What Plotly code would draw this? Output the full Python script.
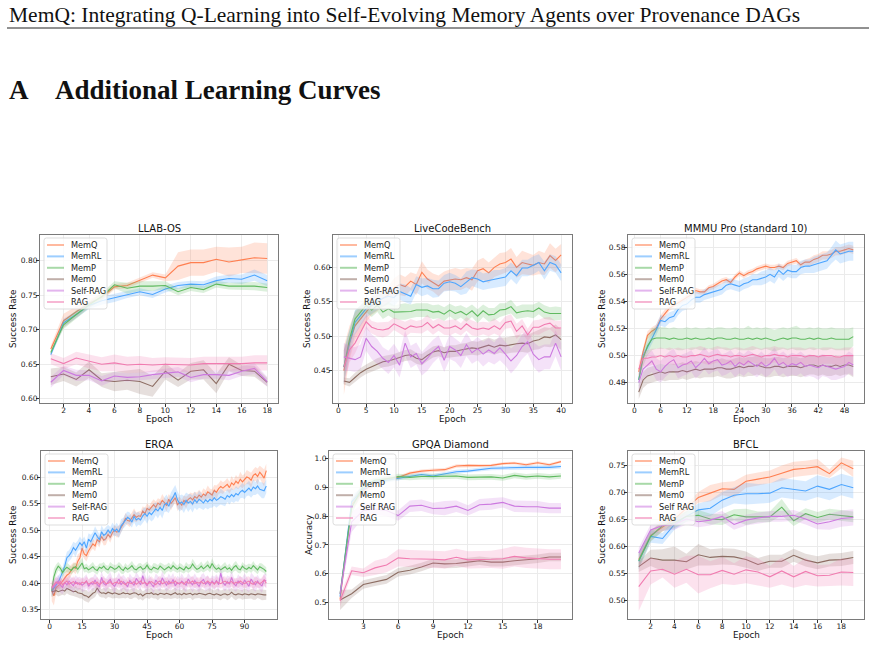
import plotly.graph_objects as go

W, H = 876, 646

SERIES = ["MemQ", "MemRL", "MemP", "Mem0", "Self-RAG", "RAG"]
LABELS_HYPHEN = ["MemQ", "MemRL", "MemP", "Mem0", "Self-RAG", "RAG"]
LABELS_SPACE = ["MemQ", "MemRL", "MemP", "Mem0", "Self RAG", "RAG"]
COLORS = [(255, 127, 80), (77, 166, 255), (96, 186, 96), (141, 110, 99), (204, 121, 224), (241, 124, 176)]

# ---------------- LLAB-OS ----------------
LLAB_EPOCHS = list(range(1, 19))
LLAB_MEMQ = [0.672, 0.713, 0.726, 0.738, 0.747, 0.762, 0.764, 0.771, 0.779, 0.775, 0.792, 0.797, 0.797, 0.802, 0.798, 0.801, 0.804, 0.803]
LLAB_MEMRL = [0.664, 0.710, 0.722, 0.735, 0.742, 0.746, 0.751, 0.755, 0.751, 0.759, 0.764, 0.766, 0.765, 0.771, 0.774, 0.773, 0.779, 0.771]
LLAB_MEMP = [0.667, 0.707, 0.722, 0.736, 0.748, 0.765, 0.760, 0.763, 0.763, 0.764, 0.755, 0.761, 0.758, 0.766, 0.763, 0.763, 0.763, 0.761]
LLAB_MEM0 = [0.632, 0.636, 0.628, 0.642, 0.627, 0.625, 0.627, 0.625, 0.618, 0.640, 0.627, 0.640, 0.642, 0.622, 0.650, 0.641, 0.640, 0.624]
LLAB_SELFRAG = [0.624, 0.641, 0.634, 0.634, 0.626, 0.633, 0.631, 0.632, 0.635, 0.637, 0.639, 0.631, 0.635, 0.635, 0.634, 0.640, 0.644, 0.625]
LLAB_RAG = [0.658, 0.651, 0.659, 0.654, 0.650, 0.652, 0.649, 0.650, 0.649, 0.650, 0.650, 0.649, 0.651, 0.651, 0.650, 0.651, 0.652, 0.652]
# band half-widths, in thousandths
LLAB_MEMQ_SD = [5, 10, 8, 6, 5, 4, 4, 4, 4, 5, 20, 19, 19, 18, 21, 19, 22, 22]
LLAB_MEMRL_SD = [3, 6, 5, 5, 6, 6, 5, 5, 5, 5, 5, 5, 5, 6, 6, 7, 8, 8]
LLAB_MEMP_SD = [3, 6, 6, 5, 5, 5, 8, 7, 7, 6, 5, 5, 5, 5, 5, 6, 6, 6]
LLAB_MEM0_SD = [12, 10, 10, 12, 10, 14, 14, 18, 15, 12, 10, 12, 14, 14, 10, 8, 8, 6]
LLAB_SELFRAG_SD = [8, 7, 8, 7, 7, 6, 6, 6, 6, 7, 7, 7, 6, 6, 7, 7, 8, 7]
LLAB_RAG_SD = [8, 8, 9, 10, 10, 12, 12, 12, 10, 10, 10, 10, 10, 10, 10, 10, 11, 11]
LLAB_XTICKS = [2, 4, 6, 8, 10, 12, 14, 16, 18]
LLAB_YTICKS = [0.60, 0.65, 0.70, 0.75, 0.80]

# ---------------- LiveCodeBench ----------------
LCB_EPOCHS = list(range(1, 41))
LCB_MEMQ = [0.450, 0.490, 0.515, 0.525, 0.535, 0.545, 0.550, 0.555, 0.560, 0.570,
            0.575, 0.572, 0.580, 0.575, 0.593, 0.583, 0.578, 0.573, 0.580, 0.582,
            0.583, 0.582, 0.585, 0.582, 0.595, 0.598, 0.592, 0.600, 0.605, 0.607,
            0.612, 0.600, 0.607, 0.605, 0.603, 0.607, 0.605, 0.617, 0.610, 0.618]
LCB_MEMRL = [0.455, 0.490, 0.520, 0.530, 0.540, 0.545, 0.550, 0.555, 0.558, 0.556,
             0.565, 0.562, 0.558, 0.575, 0.571, 0.573, 0.569, 0.569, 0.577, 0.579,
             0.577, 0.572, 0.578, 0.585, 0.583, 0.579, 0.581, 0.583, 0.584, 0.586,
             0.595, 0.588, 0.599, 0.599, 0.603, 0.607, 0.595, 0.607, 0.604, 0.592]
LCB_MEMP = [0.455, 0.495, 0.525, 0.535, 0.545, 0.538, 0.545, 0.535, 0.540, 0.535,
            0.535, 0.536, 0.536, 0.538, 0.538, 0.538, 0.535, 0.536, 0.532, 0.538,
            0.533, 0.536, 0.531, 0.537, 0.529, 0.537, 0.531, 0.532, 0.538, 0.539,
            0.543, 0.534, 0.536, 0.537, 0.536, 0.541, 0.535, 0.533, 0.533, 0.533]
LCB_MEM0 = [0.435, 0.433, 0.440, 0.447, 0.452, 0.456, 0.460, 0.463, 0.464, 0.466,
            0.469, 0.472, 0.473, 0.468, 0.466, 0.472, 0.477, 0.479, 0.476, 0.478,
            0.478, 0.480, 0.481, 0.483, 0.482, 0.485, 0.487, 0.484, 0.487, 0.486,
            0.488, 0.489, 0.490, 0.489, 0.493, 0.495, 0.499, 0.498, 0.502, 0.495]
LCB_SELFRAG = [0.470, 0.468, 0.466, 0.470, 0.497, 0.485, 0.478, 0.468, 0.462, 0.472,
               0.458, 0.490, 0.470, 0.475, 0.460, 0.468, 0.478, 0.485, 0.465, 0.485,
               0.480, 0.472, 0.488, 0.476, 0.482, 0.474, 0.480, 0.475, 0.483, 0.474,
               0.464, 0.472, 0.485, 0.492, 0.474, 0.466, 0.470, 0.470, 0.490, 0.470]
LCB_RAG = [0.455, 0.480, 0.490, 0.505, 0.521, 0.513, 0.510, 0.509, 0.511, 0.518,
           0.514, 0.510, 0.515, 0.513, 0.514, 0.520, 0.512, 0.517, 0.512, 0.512,
           0.515, 0.510, 0.518, 0.512, 0.510, 0.512, 0.510, 0.515, 0.510, 0.520,
           0.522, 0.507, 0.515, 0.502, 0.513, 0.513, 0.517, 0.519, 0.512, 0.512]
LCB_MEMQ_SD = [35, 25, 20, 18, 15, 14, 14, 13, 13, 14, 15, 14, 13, 15, 16, 14, 13, 15, 14, 15,
               16, 15, 14, 16, 15, 16, 15, 14, 16, 15, 16, 15, 17, 16, 15, 17, 16, 18, 17, 16]
LCB_MEMRL_SD = [25, 20, 18, 15, 13, 12, 12, 12, 12, 13, 12, 13, 12, 12, 13, 12, 13, 12, 12, 13,
                12, 12, 16, 12, 13, 12, 12, 13, 12, 13, 12, 13, 12, 12, 13, 12, 13, 12, 12, 12]
LCB_MEMP_SD = [25, 15, 12, 10, 10, 10, 10, 10, 10, 10, 11, 12, 10, 10, 10, 10, 10, 10, 10, 9,
               10, 9, 10, 9, 10, 9, 10, 9, 10, 9, 10, 9, 10, 9, 10, 9, 10, 9, 10, 9]
LCB_MEM0_SD = [5, 6, 7, 7, 7, 8, 8, 8, 8, 8, 8, 8, 8, 8, 8, 8, 8, 8, 8, 9,
               9, 9, 9, 10, 10, 10, 11, 11, 11, 12, 12, 12, 13, 13, 13, 14, 14, 14, 15, 15]
LCB_SELFRAG_SD = [20, 18, 18, 18, 18, 18, 18, 16, 17, 17, 18, 18, 16, 16, 17, 18, 17, 16, 17, 18,
                  17, 18, 17, 16, 17, 18, 17, 16, 18, 17, 18, 17, 18, 17, 18, 19, 18, 18, 19, 20]
LCB_RAG_SD = [25, 18, 15, 12, 10, 9, 10, 11, 10, 9, 10, 11, 10, 9, 10, 11, 10, 9, 10, 11,
              10, 9, 10, 11, 10, 9, 10, 11, 10, 9, 10, 11, 10, 9, 10, 11, 10, 9, 10, 11]
LCB_XTICKS = [0, 5, 10, 15, 20, 25, 30, 35, 40]
LCB_YTICKS = [0.45, 0.50, 0.55, 0.60]

# ---------------- MMMU Pro (standard 10) ----------------
MMMU_EPOCHS = list(range(1, 51))
MMMU_MEMQ = [0.488, 0.503, 0.515, 0.518, 0.520, 0.527, 0.531, 0.535, 0.537, 0.539,
             0.541, 0.543, 0.545, 0.548, 0.547, 0.547, 0.550, 0.551, 0.553, 0.555,
             0.556, 0.554, 0.558, 0.561, 0.559, 0.561, 0.562, 0.564, 0.565, 0.566,
             0.565, 0.565, 0.566, 0.565, 0.568, 0.569, 0.570, 0.567, 0.569, 0.569,
             0.571, 0.572, 0.574, 0.574, 0.575, 0.577, 0.577, 0.578, 0.579, 0.578]
MMMU_MEMRL = [0.482, 0.500, 0.506, 0.512, 0.519, 0.526, 0.525, 0.528, 0.529, 0.534,
              0.537, 0.538, 0.541, 0.543, 0.543, 0.545, 0.546, 0.547, 0.548, 0.549,
              0.552, 0.553, 0.552, 0.551, 0.553, 0.554, 0.556, 0.556, 0.557, 0.558,
              0.560, 0.558, 0.563, 0.560, 0.563, 0.562, 0.562, 0.565, 0.566, 0.566,
              0.567, 0.568, 0.569, 0.570, 0.574, 0.578, 0.575, 0.576, 0.577, 0.577]
MMMU_MEMP = [0.482, 0.498, 0.507, 0.512, 0.513, 0.513, 0.513, 0.512, 0.513, 0.512,
             0.512, 0.513, 0.512, 0.513, 0.512, 0.512, 0.513, 0.512, 0.513, 0.513,
             0.512, 0.512, 0.513, 0.512, 0.512, 0.513, 0.512, 0.513, 0.512, 0.513,
             0.512, 0.511, 0.512, 0.513, 0.512, 0.513, 0.513, 0.512, 0.512, 0.513,
             0.512, 0.513, 0.512, 0.512, 0.513, 0.512, 0.512, 0.512, 0.512, 0.514]
MMMU_MEM0 = [0.473, 0.482, 0.485, 0.486, 0.487, 0.488, 0.487, 0.488, 0.488, 0.488,
             0.489, 0.488, 0.489, 0.490, 0.489, 0.490, 0.490, 0.490, 0.491, 0.491,
             0.490, 0.490, 0.491, 0.492, 0.491, 0.492, 0.492, 0.493, 0.492, 0.491,
             0.491, 0.492, 0.492, 0.491, 0.492, 0.492, 0.492, 0.491, 0.492, 0.493,
             0.493, 0.492, 0.493, 0.492, 0.492, 0.493, 0.492, 0.493, 0.493, 0.492]
MMMU_SELFRAG = [0.480, 0.490, 0.493, 0.496, 0.490, 0.488, 0.492, 0.495, 0.497, 0.491,
                0.493, 0.494, 0.496, 0.491, 0.494, 0.498, 0.494, 0.496, 0.497, 0.493,
                0.494, 0.496, 0.492, 0.495, 0.493, 0.496, 0.494, 0.492, 0.495, 0.492,
                0.494, 0.498, 0.493, 0.495, 0.492, 0.494, 0.493, 0.495, 0.492, 0.493,
                0.492, 0.491, 0.493, 0.492, 0.491, 0.490, 0.491, 0.492, 0.495, 0.493]
MMMU_RAG = [0.490, 0.498, 0.498, 0.499, 0.499, 0.500, 0.499, 0.500, 0.499, 0.500,
            0.499, 0.499, 0.500, 0.500, 0.501, 0.500, 0.499, 0.500, 0.501, 0.500,
            0.500, 0.499, 0.500, 0.500, 0.499, 0.500, 0.501, 0.500, 0.499, 0.500,
            0.500, 0.501, 0.500, 0.500, 0.499, 0.500, 0.500, 0.500, 0.499, 0.500,
            0.500, 0.499, 0.500, 0.500, 0.500, 0.499, 0.499, 0.500, 0.500, 0.500]
MMMU_MEMQ_SD = [3, 3, 3, 3, 3, 3, 3, 2, 2, 2, 2, 2, 2, 2, 2, 2, 2, 2, 2, 2, 2, 2, 2, 2, 2,
                2, 2, 2, 2, 2, 2, 2, 2, 2, 2, 2, 2, 2, 2, 3, 3, 3, 3, 3, 3, 3, 3, 3, 3, 3]
MMMU_MEMRL_SD = [3, 3, 4, 4, 4, 4, 4, 4, 4, 4, 4, 4, 4, 4, 4, 4, 4, 4, 4, 4, 4, 4, 4, 4, 4,
                 4, 4, 4, 5, 5, 5, 5, 5, 5, 5, 5, 5, 5, 5, 5, 6, 6, 6, 6, 6, 7, 7, 7, 7, 7]
MMMU_MEMP_SD = [5, 6, 7, 8, 8, 8, 8, 8, 8, 8, 8, 8, 8, 8, 8, 8, 8, 8, 8, 8, 8, 8, 8, 8, 8,
                9, 8, 8, 8, 8, 8, 8, 8, 8, 8, 8, 9, 8, 8, 8, 8, 8, 8, 8, 8, 8, 8, 8, 8, 7]
MMMU_MEM0_SD = [5, 6, 6, 6, 6, 6, 6, 6, 6, 6, 6, 6, 6, 6, 6, 6, 6, 6, 6, 7, 7, 7, 7, 7, 7,
                7, 7, 7, 7, 7, 7, 7, 7, 7, 7, 7, 7, 7, 7, 7, 7, 7, 7, 7, 7, 7, 7, 7, 7, 8]
MMMU_SELFRAG_SD = [6, 7, 8, 8, 8, 8, 8, 8, 8, 8, 8, 8, 8, 8, 8, 8, 8, 8, 8, 8, 8, 8, 8, 8, 8,
                   8, 8, 8, 8, 8, 8, 8, 8, 8, 8, 8, 8, 8, 8, 8, 8, 9, 8, 8, 9, 8, 8, 8, 8, 8]
MMMU_RAG_SD = [5, 6, 6, 6, 6, 6, 6, 6, 6, 6, 6, 6, 6, 6, 6, 6, 6, 6, 6, 6, 6, 6, 6, 6, 6,
               6, 6, 6, 6, 6, 6, 6, 6, 6, 6, 6, 6, 6, 6, 6, 6, 6, 6, 6, 6, 6, 6, 6, 6, 6]
MMMU_XTICKS = [0, 6, 12, 18, 24, 30, 36, 42, 48]
MMMU_YTICKS = [0.48, 0.50, 0.52, 0.54, 0.56, 0.58]

# ---------------- ERQA ----------------
ERQA_EPOCHS = list(range(1, 101))
ERQA_MEMQ = [0.386, 0.376, 0.392, 0.395, 0.398, 0.404, 0.410, 0.415, 0.418, 0.425,
             0.430, 0.428, 0.441, 0.448, 0.466, 0.455, 0.452, 0.461, 0.468, 0.474,
             0.470, 0.482, 0.478, 0.488, 0.481, 0.484, 0.492, 0.486, 0.495, 0.500,
             0.496, 0.498, 0.505, 0.512, 0.522, 0.518, 0.517, 0.523, 0.529, 0.524,
             0.527, 0.526, 0.536, 0.531, 0.541, 0.538, 0.544, 0.548, 0.543, 0.551,
             0.548, 0.556, 0.552, 0.546, 0.558, 0.550, 0.555, 0.561, 0.548, 0.552,
             0.547, 0.556, 0.552, 0.558, 0.561, 0.557, 0.563, 0.560, 0.566, 0.562,
             0.568, 0.565, 0.572, 0.569, 0.566, 0.575, 0.571, 0.578, 0.582, 0.579,
             0.583, 0.586, 0.580, 0.589, 0.585, 0.592, 0.588, 0.596, 0.591, 0.595,
             0.600, 0.598, 0.594, 0.603, 0.606, 0.601, 0.609, 0.604, 0.598, 0.612]
ERQA_MEMRL = [0.385, 0.390, 0.396, 0.402, 0.411, 0.420, 0.432, 0.448, 0.452, 0.458,
              0.467, 0.462, 0.470, 0.476, 0.471, 0.478, 0.466, 0.483, 0.478, 0.486,
              0.495, 0.488, 0.482, 0.497, 0.490, 0.493, 0.500, 0.494, 0.503, 0.498,
              0.502, 0.496, 0.508, 0.513, 0.519, 0.524, 0.521, 0.515, 0.526, 0.519,
              0.522, 0.519, 0.527, 0.531, 0.526, 0.533, 0.529, 0.535, 0.540, 0.536,
              0.543, 0.537, 0.548, 0.551, 0.545, 0.556, 0.562, 0.571, 0.557, 0.550,
              0.553, 0.548, 0.556, 0.551, 0.554, 0.549, 0.557, 0.552, 0.558, 0.555,
              0.551, 0.557, 0.553, 0.558, 0.555, 0.561, 0.556, 0.559, 0.563, 0.561,
              0.558, 0.565, 0.562, 0.567, 0.563, 0.569, 0.566, 0.572, 0.575, 0.571,
              0.576, 0.579, 0.574, 0.581, 0.578, 0.583, 0.577, 0.575, 0.574, 0.583]
ERQA_MEMP = [0.386, 0.412, 0.425, 0.432, 0.428, 0.420, 0.426, 0.430, 0.427, 0.424,
             0.429, 0.431, 0.426, 0.433, 0.438, 0.427, 0.429, 0.425, 0.428, 0.431,
             0.426, 0.424, 0.430, 0.428, 0.432, 0.427, 0.425, 0.431, 0.429, 0.426,
             0.428, 0.432, 0.427, 0.424, 0.430, 0.426, 0.429, 0.433, 0.427, 0.425,
             0.429, 0.431, 0.426, 0.428, 0.434, 0.427, 0.425, 0.430, 0.428, 0.426,
             0.432, 0.429, 0.425, 0.428, 0.431, 0.427, 0.433, 0.429, 0.426, 0.430,
             0.428, 0.425, 0.431, 0.427, 0.429, 0.436, 0.430, 0.426, 0.428, 0.432,
             0.427, 0.431, 0.434, 0.428, 0.437, 0.430, 0.426, 0.429, 0.425, 0.428,
             0.431, 0.426, 0.429, 0.424, 0.430, 0.433, 0.427, 0.425, 0.432, 0.428,
             0.426, 0.430, 0.427, 0.433, 0.428, 0.425, 0.431, 0.429, 0.426, 0.422]
ERQA_MEM0 = [0.384, 0.385, 0.386, 0.384, 0.386, 0.387, 0.385, 0.390, 0.388, 0.386,
             0.384, 0.385, 0.382, 0.381, 0.380, 0.377, 0.376, 0.373, 0.378, 0.381,
             0.383, 0.391, 0.384, 0.381, 0.382, 0.380, 0.383, 0.381, 0.380, 0.382,
             0.381, 0.379, 0.380, 0.382, 0.380, 0.381, 0.379, 0.380, 0.382, 0.381,
             0.378, 0.380, 0.376, 0.379, 0.381, 0.380, 0.382, 0.379, 0.380, 0.378,
             0.381, 0.380, 0.379, 0.381, 0.380, 0.378, 0.380, 0.382, 0.379, 0.380,
             0.378, 0.381, 0.379, 0.380, 0.381, 0.378, 0.380, 0.379, 0.381, 0.380,
             0.379, 0.378, 0.380, 0.381, 0.379, 0.378, 0.380, 0.379, 0.377, 0.379,
             0.380, 0.378, 0.379, 0.383, 0.379, 0.378, 0.380, 0.379, 0.378, 0.380,
             0.379, 0.378, 0.380, 0.379, 0.378, 0.380, 0.379, 0.378, 0.378, 0.378]
ERQA_SELFRAG = [0.390, 0.394, 0.399, 0.404, 0.396, 0.392, 0.401, 0.397, 0.404, 0.399,
                0.395, 0.403, 0.398, 0.401, 0.396, 0.399, 0.404, 0.394, 0.400, 0.398,
                0.406, 0.397, 0.393, 0.411, 0.399, 0.396, 0.403, 0.407, 0.398, 0.394,
                0.401, 0.408, 0.397, 0.403, 0.399, 0.393, 0.405, 0.400, 0.396, 0.409,
                0.402, 0.397, 0.414, 0.401, 0.395, 0.404, 0.398, 0.393, 0.406, 0.400,
                0.397, 0.410, 0.402, 0.396, 0.404, 0.399, 0.407, 0.395, 0.401, 0.398,
                0.404, 0.399, 0.396, 0.408, 0.401, 0.397, 0.405, 0.399, 0.394, 0.403,
                0.407, 0.398, 0.402, 0.396, 0.404, 0.399, 0.405, 0.397, 0.419, 0.401,
                0.396, 0.403, 0.398, 0.411, 0.399, 0.395, 0.404, 0.400, 0.397, 0.406,
                0.399, 0.394, 0.408, 0.401, 0.397, 0.404, 0.398, 0.395, 0.406, 0.404]
ERQA_RAG = [0.392, 0.398, 0.402, 0.399, 0.403, 0.397, 0.401, 0.404, 0.398, 0.400,
            0.403, 0.399, 0.401, 0.397, 0.402, 0.400, 0.404, 0.398, 0.401, 0.403,
            0.399, 0.402, 0.397, 0.401, 0.404, 0.399, 0.400, 0.403, 0.398, 0.401,
            0.402, 0.399, 0.404, 0.400, 0.397, 0.402, 0.401, 0.399, 0.403, 0.398,
            0.401, 0.404, 0.399, 0.402, 0.398, 0.401, 0.403, 0.400, 0.397, 0.402,
            0.404, 0.399, 0.401, 0.403, 0.398, 0.402, 0.400, 0.404, 0.399, 0.401,
            0.402, 0.398, 0.403, 0.400, 0.401, 0.404, 0.399, 0.402, 0.400, 0.403,
            0.399, 0.401, 0.404, 0.400, 0.402, 0.398, 0.403, 0.401, 0.399, 0.402,
            0.404, 0.400, 0.401, 0.403, 0.399, 0.402, 0.400, 0.404, 0.401, 0.399,
            0.402, 0.404, 0.400, 0.398, 0.403, 0.401, 0.399, 0.402, 0.406, 0.400]
ERQA_MEMQ_SD = [20, 18, 12, 9, 8, 10, 9, 11, 12, 10, 9, 11, 13, 10, 12, 9, 11, 10, 8, 9,
                10, 9, 11, 8, 10, 12, 9, 10, 8, 9, 10, 11, 9, 8, 10, 9, 11, 10, 12, 9,
                8, 10, 9, 11, 10, 8, 9, 10, 11, 9, 10, 12, 9, 11, 10, 13, 9, 10, 12, 11,
                10, 9, 11, 8, 10, 12, 9, 11, 10, 9, 11, 10, 12, 9, 11, 10, 13, 10, 12, 11,
                10, 12, 11, 13, 10, 12, 11, 14, 12, 11, 13, 12, 14, 11, 13, 15, 12, 14, 16, 13]
ERQA_MEMRL_SD = [10, 9, 10, 11, 9, 10, 12, 11, 10, 12, 11, 13, 10, 12, 11, 10, 12, 11, 13, 10,
                 12, 11, 10, 12, 11, 13, 10, 12, 11, 10, 12, 11, 13, 10, 12, 11, 12, 10, 11, 13,
                 12, 11, 13, 12, 14, 12, 13, 15, 12, 14, 13, 15, 14, 16, 13, 15, 17, 14, 16, 15,
                 14, 16, 15, 17, 14, 16, 15, 14, 16, 15, 13, 15, 14, 16, 13, 15, 14, 13, 15, 14,
                 13, 12, 14, 13, 12, 14, 13, 12, 14, 13, 12, 14, 13, 15, 12, 14, 13, 15, 14, 13]
ERQA_MEMP_SD = [12, 15, 10, 8, 7, 8, 7, 9, 8, 7, 8, 7, 9, 8, 10, 7, 8, 7, 8, 9,
                7, 8, 7, 9, 8, 7, 8, 9, 7, 8, 7, 8, 9, 7, 8, 7, 8, 9, 8, 7,
                8, 7, 8, 9, 7, 8, 7, 8, 9, 8, 7, 8, 9, 7, 8, 7, 9, 8, 7, 8,
                8, 7, 9, 8, 7, 10, 8, 7, 8, 9, 7, 8, 9, 8, 10, 8, 7, 8, 7, 8,
                9, 7, 8, 7, 8, 9, 8, 7, 8, 7, 8, 7, 8, 9, 7, 8, 7, 8, 7, 8]
ERQA_MEM0_SD = [10, 9, 8, 9, 10, 9, 8, 9, 10, 9, 8, 10, 9, 10, 9, 10, 11, 10, 9, 10,
                9, 10, 9, 8, 9, 10, 9, 8, 9, 10, 9, 8, 9, 10, 9, 8, 9, 10, 9, 8,
                9, 10, 9, 8, 9, 10, 9, 8, 9, 10, 9, 8, 9, 10, 9, 8, 9, 10, 9, 8,
                9, 10, 9, 8, 9, 10, 9, 8, 9, 10, 9, 8, 9, 10, 9, 8, 9, 10, 9, 8,
                9, 10, 9, 8, 9, 10, 9, 8, 9, 10, 9, 8, 9, 10, 9, 8, 9, 10, 9, 9]
ERQA_SELFRAG_SD = [12, 13, 11, 12, 14, 13, 12, 11, 13, 12, 14, 12, 13, 11, 12, 14, 13, 12, 11, 13,
                   12, 14, 13, 12, 11, 13, 12, 14, 12, 13, 11, 12, 14, 13, 12, 11, 13, 12, 14, 12,
                   13, 11, 12, 14, 13, 12, 11, 13, 12, 14, 12, 13, 11, 12, 14, 13, 12, 11, 13, 12,
                   14, 12, 13, 11, 12, 14, 13, 12, 11, 13, 12, 14, 13, 12, 11, 13, 12, 14, 12, 13,
                   11, 12, 14, 13, 12, 11, 13, 12, 14, 12, 13, 11, 12, 14, 13, 12, 11, 13, 12, 13]
ERQA_RAG_SD = [9, 8, 9, 10, 8, 9, 10, 9, 8, 9, 10, 8, 9, 10, 9, 8, 9, 10, 9, 8,
               9, 10, 8, 9, 10, 9, 8, 9, 10, 9, 8, 9, 10, 8, 9, 10, 9, 8, 9, 10,
               9, 8, 9, 10, 8, 9, 10, 9, 8, 9, 10, 9, 8, 9, 10, 8, 9, 10, 9, 8,
               9, 10, 9, 8, 9, 10, 8, 9, 10, 9, 8, 9, 10, 9, 8, 9, 10, 8, 9, 10,
               9, 8, 9, 10, 9, 8, 9, 10, 8, 9, 10, 9, 8, 9, 10, 9, 8, 9, 10, 9]
ERQA_XTICKS = [0, 15, 30, 45, 60, 75, 90]
ERQA_YTICKS = [0.35, 0.40, 0.45, 0.50, 0.55, 0.60]

# ---------------- GPQA Diamond ----------------
GPQA_EPOCHS = list(range(1, 21))
GPQA_MEMQ = [0.510, 0.840, 0.890, 0.915, 0.930, 0.935, 0.950, 0.957, 0.960, 0.962, 0.975, 0.977, 0.976, 0.977, 0.983, 0.985, 0.979, 0.986, 0.979, 0.990]
GPQA_MEMRL = [0.520, 0.850, 0.895, 0.920, 0.925, 0.932, 0.940, 0.945, 0.940, 0.948, 0.955, 0.957, 0.963, 0.967, 0.968, 0.970, 0.970, 0.970, 0.970, 0.973]
GPQA_MEMP = [0.530, 0.830, 0.905, 0.925, 0.930, 0.938, 0.935, 0.938, 0.938, 0.938, 0.940, 0.935, 0.937, 0.937, 0.933, 0.942, 0.937, 0.940, 0.937, 0.940]
GPQA_MEM0 = [0.508, 0.530, 0.562, 0.572, 0.580, 0.605, 0.612, 0.623, 0.637, 0.634, 0.635, 0.640, 0.645, 0.640, 0.640, 0.645, 0.648, 0.652, 0.658, 0.658]
GPQA_SELFRAG = [0.530, 0.780, 0.820, 0.825, 0.820, 0.802, 0.835, 0.838, 0.827, 0.828, 0.835, 0.820, 0.840, 0.842, 0.848, 0.835, 0.833, 0.833, 0.828, 0.828]
GPQA_RAG = [0.505, 0.610, 0.603, 0.620, 0.630, 0.655, 0.652, 0.652, 0.650, 0.648, 0.657, 0.648, 0.648, 0.650, 0.652, 0.660, 0.655, 0.652, 0.650, 0.650]
GPQA_MEMQ_SD = [15, 20, 15, 10, 8, 6, 6, 6, 6, 6, 6, 5, 5, 5, 5, 5, 5, 5, 5, 5]
GPQA_MEMRL_SD = [15, 20, 12, 10, 8, 8, 7, 7, 7, 7, 7, 7, 7, 7, 7, 7, 7, 7, 7, 7]
GPQA_MEMP_SD = [15, 25, 12, 10, 10, 10, 10, 10, 10, 10, 10, 10, 10, 10, 10, 10, 10, 10, 10, 10]
GPQA_MEM0_SD = [35, 15, 15, 15, 15, 15, 15, 15, 15, 15, 15, 15, 15, 15, 15, 15, 15, 15, 15, 15]
GPQA_SELFRAG_SD = [20, 35, 25, 20, 20, 18, 20, 20, 20, 25, 20, 18, 20, 20, 18, 20, 20, 20, 18, 18]
GPQA_RAG_SD = [20, 15, 15, 25, 25, 30, 30, 30, 30, 30, 30, 30, 30, 30, 35, 35, 35, 35, 35, 35]
GPQA_XTICKS = [3, 6, 9, 12, 15, 18]
GPQA_YTICKS = [0.5, 0.6, 0.7, 0.8, 0.9, 1.0]

# ---------------- BFCL ----------------
BFCL_EPOCHS = list(range(1, 20))
BFCL_MEMQ = [0.575, 0.620, 0.635, 0.650, 0.670, 0.690, 0.698, 0.706, 0.705, 0.720, 0.724, 0.728, 0.735, 0.742, 0.744, 0.747, 0.734, 0.754, 0.743]
BFCL_MEMRL = [0.572, 0.618, 0.614, 0.640, 0.655, 0.667, 0.670, 0.685, 0.694, 0.697, 0.697, 0.698, 0.708, 0.705, 0.702, 0.711, 0.705, 0.714, 0.708]
BFCL_MEMP = [0.573, 0.618, 0.638, 0.643, 0.655, 0.657, 0.650, 0.649, 0.658, 0.654, 0.654, 0.654, 0.672, 0.647, 0.660, 0.653, 0.659, 0.657, 0.654]
BFCL_MEM0 = [0.562, 0.578, 0.574, 0.574, 0.571, 0.584, 0.579, 0.581, 0.580, 0.575, 0.566, 0.572, 0.572, 0.583, 0.574, 0.569, 0.574, 0.575, 0.579]
BFCL_SELFRAG = [0.587, 0.630, 0.638, 0.640, 0.650, 0.645, 0.648, 0.655, 0.640, 0.648, 0.652, 0.655, 0.655, 0.657, 0.650, 0.641, 0.645, 0.651, 0.653]
BFCL_RAG = [0.525, 0.554, 0.557, 0.548, 0.557, 0.547, 0.547, 0.555, 0.548, 0.556, 0.552, 0.543, 0.554, 0.543, 0.553, 0.545, 0.546, 0.552, 0.551]
BFCL_MEMQ_SD = [12, 10, 8, 8, 8, 10, 15, 12, 15, 12, 12, 12, 14, 14, 14, 14, 8, 10, 15]
BFCL_MEMRL_SD = [15, 12, 10, 10, 10, 12, 15, 15, 15, 20, 18, 18, 18, 18, 18, 20, 20, 20, 20]
BFCL_MEMP_SD = [15, 10, 10, 10, 10, 10, 10, 10, 10, 15, 10, 10, 15, 10, 10, 10, 10, 10, 10]
BFCL_MEM0_SD = [10, 15, 20, 25, 15, 20, 15, 15, 15, 15, 12, 12, 12, 12, 12, 12, 12, 12, 12]
BFCL_SELFRAG_SD = [10, 10, 10, 10, 10, 10, 10, 10, 10, 10, 10, 10, 10, 10, 10, 10, 15, 15, 15]
BFCL_RAG_SD = [45, 25, 15, 25, 25, 35, 25, 25, 20, 25, 25, 20, 25, 20, 25, 20, 20, 25, 25]
BFCL_XTICKS = [2, 4, 6, 8, 10, 12, 14, 16, 18]
BFCL_YTICKS = [0.50, 0.55, 0.60, 0.65, 0.70, 0.75]

HEADER = "MemQ: Integrating Q-Learning into Self-Evolving Memory Agents over Provenance DAGs"
SECTION_NUM = "A"
SECTION_TITLE = "Additional Learning Curves"

PANELS = [
    dict(title="LLAB-OS", x=LLAB_EPOCHS,
         means=[LLAB_MEMQ, LLAB_MEMRL, LLAB_MEMP, LLAB_MEM0, LLAB_SELFRAG, LLAB_RAG],
         sds=[LLAB_MEMQ_SD, LLAB_MEMRL_SD, LLAB_MEMP_SD, LLAB_MEM0_SD, LLAB_SELFRAG_SD, LLAB_RAG_SD],
         labels=LABELS_HYPHEN, ylabel="Success Rate", xticks=LLAB_XTICKS, yticks=LLAB_YTICKS, yfmt="{:.2f}",
         yrange=(0.594, 0.837), box=(40, 235, 278, 403), ylab_dx=27),
    dict(title="LiveCodeBench", x=LCB_EPOCHS,
         means=[LCB_MEMQ, LCB_MEMRL, LCB_MEMP, LCB_MEM0, LCB_SELFRAG, LCB_RAG],
         sds=[LCB_MEMQ_SD, LCB_MEMRL_SD, LCB_MEMP_SD, LCB_MEM0_SD, LCB_SELFRAG_SD, LCB_RAG_SD],
         labels=LABELS_HYPHEN, ylabel="Success Rate", xticks=LCB_XTICKS, yticks=LCB_YTICKS, yfmt="{:.2f}",
         yrange=(0.403, 0.647), box=(333, 235, 572, 403), ylab_dx=26),
    dict(title="MMMU Pro (standard 10)", x=MMMU_EPOCHS,
         means=[MMMU_MEMQ, MMMU_MEMRL, MMMU_MEMP, MMMU_MEM0, MMMU_SELFRAG, MMMU_RAG],
         sds=[MMMU_MEMQ_SD, MMMU_MEMRL_SD, MMMU_MEMP_SD, MMMU_MEM0_SD, MMMU_SELFRAG_SD, MMMU_RAG_SD],
         labels=LABELS_HYPHEN, ylabel="Success Rate", xticks=MMMU_XTICKS, yticks=MMMU_YTICKS, yfmt="{:.2f}",
         yrange=(0.465, 0.589), box=(628, 235, 864, 403), ylab_dx=26),
    dict(title="ERQA", x=ERQA_EPOCHS,
         means=[ERQA_MEMQ, ERQA_MEMRL, ERQA_MEMP, ERQA_MEM0, ERQA_SELFRAG, ERQA_RAG],
         sds=[ERQA_MEMQ_SD, ERQA_MEMRL_SD, ERQA_MEMP_SD, ERQA_MEM0_SD, ERQA_SELFRAG_SD, ERQA_RAG_SD],
         labels=LABELS_HYPHEN, ylabel="Success Rate", xticks=ERQA_XTICKS, yticks=ERQA_YTICKS, yfmt="{:.2f}",
         yrange=(0.3325, 0.649), box=(41, 451, 277, 619), ylab_dx=28),
    dict(title="GPQA Diamond", x=GPQA_EPOCHS,
         means=[GPQA_MEMQ, GPQA_MEMRL, GPQA_MEMP, GPQA_MEM0, GPQA_SELFRAG, GPQA_RAG],
         sds=[GPQA_MEMQ_SD, GPQA_MEMRL_SD, GPQA_MEMP_SD, GPQA_MEM0_SD, GPQA_SELFRAG_SD, GPQA_RAG_SD],
         labels=LABELS_SPACE, ylabel="Accuracy", xticks=GPQA_XTICKS, yticks=GPQA_YTICKS, yfmt="{:.1f}",
         yrange=(0.442, 1.027), box=(329, 451, 572, 619), ylab_dx=20),
    dict(title="BFCL", x=BFCL_EPOCHS,
         means=[BFCL_MEMQ, BFCL_MEMRL, BFCL_MEMP, BFCL_MEM0, BFCL_SELFRAG, BFCL_RAG],
         sds=[BFCL_MEMQ_SD, BFCL_MEMRL_SD, BFCL_MEMP_SD, BFCL_MEM0_SD, BFCL_SELFRAG_SD, BFCL_RAG_SD],
         labels=LABELS_SPACE, ylabel="Success Rate", xticks=BFCL_XTICKS, yticks=BFCL_YTICKS, yfmt="{:.2f}",
         yrange=(0.465, 0.776), box=(628, 451, 864, 619), ylab_dx=26),
]

FONT = "DejaVu Sans"
SERIF = "Liberation Serif"


def px(x):
    return x / W


def py(y):
    return 1 - y / H


def rgba(c, a):
    return "rgba(%d,%d,%d,%s)" % (c[0], c[1], c[2], a)


fig = go.Figure()
layout = dict(
    width=W, height=H, margin=dict(l=0, r=0, t=0, b=0),
    paper_bgcolor="white", plot_bgcolor="white",
    showlegend=False, hovermode=False,
)
annotations = []
shapes = []

for i, p in enumerate(PANELS):
    sfx = "" if i == 0 else str(i + 1)
    L, T, R, B = p["box"]
    xs = p["x"]
    for k in range(len(SERIES)):
        m = p["means"][k]
        sd = p["sds"][k]
        up = [a + b / 1000.0 for a, b in zip(m, sd)]
        lo = [a - b / 1000.0 for a, b in zip(m, sd)]
        col = COLORS[k]
        fig.add_trace(go.Scatter(x=xs, y=m, mode="lines", line=dict(color=rgba(col, 1), width=1.1),
                                 xaxis="x" + sfx, yaxis="y" + sfx, showlegend=False, hoverinfo="skip"))
        fig.add_trace(go.Scatter(x=list(xs) + list(xs)[::-1], y=up + lo[::-1], mode="lines",
                                 fill="toself", fillcolor=rgba(col, 0.22), line=dict(width=0),
                                 xaxis="x" + sfx, yaxis="y" + sfx, showlegend=False, hoverinfo="skip"))
    x0, x1 = xs[0], xs[-1]
    pad = 0.05 * (x1 - x0)
    axis_common = dict(showline=True, mirror=True, linecolor="#7a7a7a", linewidth=1,
                       ticks="outside", ticklen=3, tickwidth=0.8, tickcolor="#333333",
                       ticklabelstandoff=-3,
                       tickfont=dict(family=FONT, size=7.5, color="#222222"),
                       showgrid=True, gridcolor="#ebebeb", gridwidth=0.8, zeroline=False)
    layout["xaxis" + sfx] = dict(domain=[px(L), px(R)], anchor="y" + sfx, range=[x0 - pad, x1 + pad],
                                 tickvals=p["xticks"], ticktext=[str(v) for v in p["xticks"]], **axis_common)
    layout["yaxis" + sfx] = dict(domain=[py(B), py(T)], anchor="x" + sfx, range=list(p["yrange"]),
                                 tickvals=p["yticks"], ticktext=[p["yfmt"].format(v) for v in p["yticks"]],
                                 **axis_common)
    # titles
    annotations.append(dict(text=p["title"], x=px((L + R) / 2), y=py(T - 7), xref="paper", yref="paper",
                            showarrow=False, xanchor="center", yanchor="middle",
                            font=dict(family=FONT, size=10, color="#111111")))
    annotations.append(dict(text="Epoch", x=px((L + R) / 2), y=py(B + 15.5), xref="paper", yref="paper",
                            showarrow=False, xanchor="center", yanchor="middle",
                            font=dict(family=FONT, size=8.8, color="#111111")))
    annotations.append(dict(text=p["ylabel"], x=px(L - p["ylab_dx"]), y=py((T + B) / 2), xref="paper", yref="paper",
                            showarrow=False, xanchor="center", yanchor="middle", textangle=-90,
                            font=dict(family=FONT, size=8.8, color="#111111")))
    # legend box (rounded)
    bx0, by0, bx1, by1, r = L + 4, T + 3, L + 67, T + 74, 2.5
    pts = [("M", [(bx0 + r, by0)]), ("L", [(bx1 - r, by0)]), ("Q", [(bx1, by0), (bx1, by0 + r)]),
           ("L", [(bx1, by1 - r)]), ("Q", [(bx1, by1), (bx1 - r, by1)]), ("L", [(bx0 + r, by1)]),
           ("Q", [(bx0, by1), (bx0, by1 - r)]), ("L", [(bx0, by0 + r)]), ("Q", [(bx0, by0), (bx0 + r, by0)])]
    path = " ".join(cmd + " " + " ".join("%.5f,%.5f" % (px(a), py(b)) for a, b in xy) for cmd, xy in pts) + " Z"
    shapes.append(dict(type="path", path=path, xref="paper", yref="paper", layer="above",
                       line=dict(color="#d4d4d4", width=0.8), fillcolor="rgba(255,255,255,0.8)"))
    for k, lab in enumerate(p["labels"]):
        yy = T + 10 + 11.4 * k
        shapes.append(dict(type="line", xref="paper", yref="paper", layer="above",
                           x0=px(L + 7), x1=px(L + 24), y0=py(yy), y1=py(yy),
                           line=dict(color=rgba(COLORS[k], 0.55), width=2)))
        annotations.append(dict(text=lab, x=px(L + 29), y=py(yy), xref="paper", yref="paper",
                                showarrow=False, xanchor="left", yanchor="middle",
                                font=dict(family=FONT, size=8.2, color="#222222")))

# page header
annotations.append(dict(text=HEADER, x=px(7), y=py(15), xref="paper", yref="paper", showarrow=False,
                        xanchor="left", yanchor="middle", font=dict(family=SERIF, size=21.5, color="#111111")))
shapes.append(dict(type="line", xref="paper", yref="paper", x0=px(7), x1=px(869), y0=py(28), y1=py(28),
                   line=dict(color="#222222", width=1)))
annotations.append(dict(text="<b>" + SECTION_NUM + "</b>", x=px(7), y=py(90), xref="paper", yref="paper",
                        showarrow=False, xanchor="left", yanchor="middle",
                        font=dict(family=SERIF, size=27, color="#111111")))
annotations.append(dict(text="<b>" + SECTION_TITLE + "</b>", x=px(53), y=py(90), xref="paper", yref="paper",
                        showarrow=False, xanchor="left", yanchor="middle",
                        font=dict(family=SERIF, size=27, color="#111111")))

layout["annotations"] = annotations
layout["shapes"] = shapes
fig.update_layout(**layout)
fig.write_html("out.html")
